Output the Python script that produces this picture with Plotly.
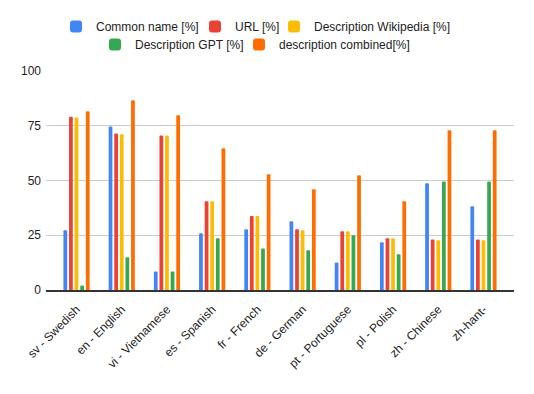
import plotly.graph_objects as go

categories = ["sv - Swedish", "en - English", "vi - Vietnamese", "es - Spanish", "fr - French",
              "de - German", "pt - Portuguese", "pl - Polish", "zh - Chinese", "zh-hant-"]
common_name = [27.3, 74.7, 8.5, 25.9, 27.7, 31.4, 12.6, 21.8, 48.7, 38.2]
url = [79.1, 71.5, 70.6, 40.5, 33.8, 27.7, 26.8, 23.6, 23.1, 23.1]
desc_wiki = [78.8, 71.1, 70.6, 40.5, 33.8, 27.3, 26.8, 23.6, 22.7, 22.7]
desc_gpt = [2.0, 14.9, 8.5, 23.6, 19.0, 18.1, 25.0, 16.3, 49.6, 49.6]
desc_combined = [81.6, 86.6, 79.8, 64.7, 52.8, 46.0, 52.4, 40.5, 72.9, 72.9]
y_ticks = [0, 25, 50, 75, 100]

W, H = 534, 394
# (name, values, colour, legend id, legend text left px, legend row centre px)
series = [
    ("Common name [%]", common_name, "#4285F4", "legend", 94, 26.5),
    ("URL [%]", url, "#EA4335", "legend2", 233, 26.5),
    ("Description Wikipedia [%]", desc_wiki, "#FBBC04", "legend3", 312, 26.5),
    ("Description GPT [%]", desc_gpt, "#34A853", "legend4", 133, 44.5),
    ("description combined[%]", desc_combined, "#FF6D01", "legend5", 277, 44.5),
]

font = "Liberation Sans, Arial, sans-serif"
fig = go.Figure()
legends = {}
for name, vals, color, leg, tx, sy in series:
    fig.add_trace(go.Bar(x=categories, y=vals, name=name, marker_color=color,
                         marker_line_width=0, legend=leg, showlegend=True))
    legends[leg] = dict(orientation="h", xref="container", yref="container",
                        x=(tx - 38) / W, xanchor="left", y=1 - sy / H, yanchor="middle",
                        font=dict(size=12, color="#222222", family=font),
                        bgcolor="rgba(0,0,0,0)", borderwidth=0, visible=True)

fig.update_layout(
    width=W, height=H, showlegend=True,
    margin=dict(l=46, r=20, t=71, b=104, autoexpand=False),
    paper_bgcolor="white", plot_bgcolor="white",
    barmode="group", bargap=0.38, bargroupgap=0.33, barcornerradius=2,
    font=dict(family=font, size=12, color="#222222"),
    xaxis=dict(range=[-0.675, 9.675], tickangle=-45, showgrid=False, automargin=False,
               showline=True, linecolor="#333333", linewidth=1.5, ticks="",
               ticklabelstandoff=6, tickfont=dict(size=12, color="#222222")),
    yaxis=dict(range=[0, 100], tickvals=y_ticks, ticktext=[str(v) for v in y_ticks],
               showgrid=True, gridcolor="#cccccc", gridwidth=1, zeroline=False,
               automargin=False, showline=False, ticks="", ticklabelstandoff=4,
               tickfont=dict(size=12, color="#222222")),
    **legends,
)

fig.write_html("out.html", post_script="document.body.style.margin='0';",
               config={"displayModeBar": False})
